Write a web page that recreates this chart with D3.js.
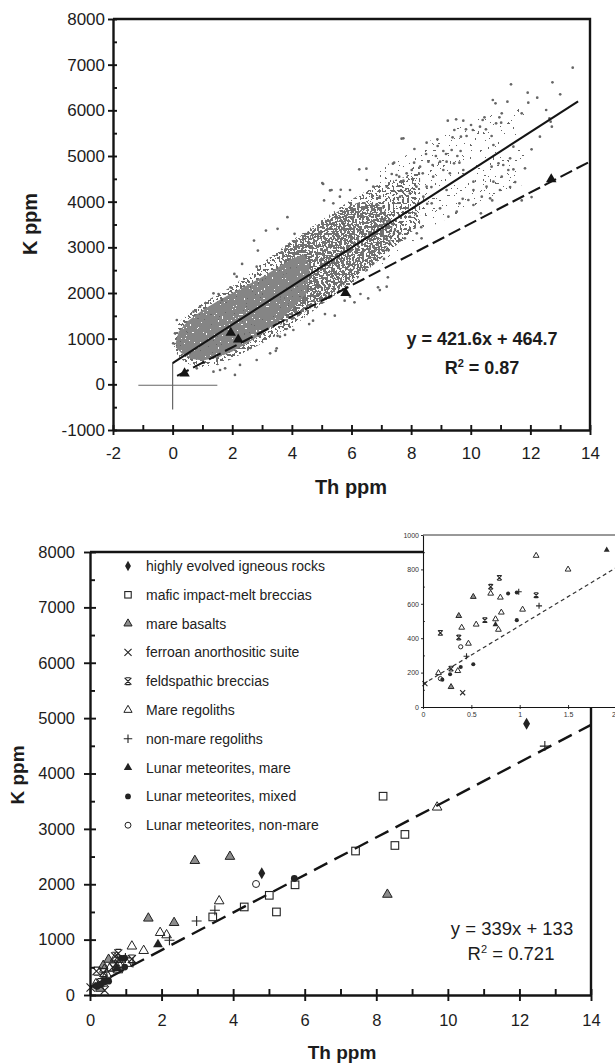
<!DOCTYPE html>
<html>
<head>
<meta charset="utf-8">
<script src="https://cdn.jsdelivr.net/npm/d3@7"></script>
<style>
  html, body { margin: 0; padding: 0; background: #fff; }
  svg { display: block; font-family: Arial, "Liberation Sans", Helvetica, sans-serif; }
</style>
</head>
<body>
<svg id="fig" width="615" height="1063"></svg>
<script>
// ---------- upper panel: orbital K vs Th ----------
const topXTicks = [-2, 0, 2, 4, 6, 8, 10, 12, 14];
const topYTicks = [-1000, 0, 1000, 2000, 3000, 4000, 5000, 6000, 7000, 8000];
const orbitFit = { slope: 421.6, intercept: 464.7, r2: "0.87", thEnd: 13.6 };
const sampleFit = { slope: 339, intercept: 133, r2: "0.721" };

// outline of the solid, most crowded part of the cloud (Th, K)
const coreOutline = [[0.1,900],[0.2,1150],[0.5,1380],[1.0,1620],[1.5,1820],[2.0,2000],[2.5,2170],[3.0,2350],[3.5,2550],[4.0,2750],[4.4,2850],[4.6,2600],[4.5,2000],[4.0,1650],[3.5,1350],[3.0,1100],[2.5,900],[2.0,720],[1.5,580],[1.0,520],[0.6,560],[0.3,680],[0.12,800]];
// outline of the crowded but mottled middle stretch
const midOutline = [[3.6,2900],[4.3,3250],[5.0,3550],[5.7,3850],[6.3,4000],[6.9,3950],[7.4,3600],[7.3,3100],[6.7,2650],[6.0,2300],[5.3,1950],[4.6,1650],[4.0,1400],[3.6,1300]];
// outline of the looser halo around the main cloud
const haloOutline = [[0.05,1000],[0.2,1350],[0.6,1600],[1.2,1850],[2.0,2150],[3.0,2650],[4.0,3150],[5.0,3600],[6.0,4050],[6.8,4350],[7.6,4500],[8.3,4650],[8.3,3500],[7.6,3100],[6.8,2650],[6.0,2200],[5.0,1750],[4.0,1250],[3.0,900],[2.0,560],[1.5,420],[1.0,380],[0.5,450],[0.2,600],[0.05,800]];
// outline of the thin high-Th tail
const tailOutline = [[6.8,4700],[7.8,5000],[8.8,5400],[9.8,5700],[10.8,5950],[11.8,6050],[11.8,4400],[10.8,4000],[9.8,3800],[8.8,3500],[7.8,3000],[6.8,2500]];

// individually resolved pixels of the cloud (Th, K)
const cloudPoints = [
  [13.42,6934],[11.35,6569],[12.74,6613],[13.0,6350],[11.91,6387],[12.23,6277],[11.93,6168],[12.53,6007],[12.72,5642],[12.68,5752],
  [11.71,5934],[10.74,6226],[10.83,6153],[11.23,6190],[11.04,5934],[10.96,5846],[10.85,5715],[11.02,5730],[10.4,5788],[10.31,5642],
  [10.46,5846],[10.51,5584],[10.7,5438],[9.23,5773],[9.51,5803],[9.75,5773],[9.84,5584],[10.01,5679],[10.07,5569],[9.45,5569],
  [9.67,5423],[9.86,5438],[9.39,5409],[8.88,5365],[8.52,5292],[8.5,5044],[7.74,5387],[8.11,5153],[7.43,4854],[6.26,4708],
  [5.05,4387],[8.89,5219],[9.08,5109],[9.17,5044],[9.36,5131],[9.55,5000],[9.66,5109],[8.83,5000],[8.97,4876],[9.19,4876],
  [9.44,4839],[9.62,4854],[9.75,4693],[9.08,4693],[9.3,4620],[8.58,4876],[8.72,4803],[8.3,4766],[8.39,4620],[8.1,4854],
  [8.02,4693],[7.85,4620],[7.74,4459],[7.6,4547],[7.51,4584],[7.35,4606],[10.7,4766],[10.93,4839],[11.09,4803],[11.32,4949],
  [11.26,4693],[11.43,4708],[11.04,4547],[10.76,4438],[10.53,4328],[10.09,4438],[10.09,4255],[9.92,4036],[10.37,4109],[10.65,4073],
  [10.98,4255],[12.04,5146],[11.82,4730],[10.76,5241],[9.62,3963],[9.53,3780],[9.25,3671],[8.97,3854],[10.09,3927],[10.34,3744],
  [11.43,5204],[12.32,5423],[12.64,5825],[8.19,3306],[8.35,3197],[7.79,3197],[7.29,3087],[7.63,3671],[7.96,3671],[7.46,3379],
  [7.07,3562],[8.52,4328],[8.74,4547],[8.18,4328],[7.96,4182],[8.41,4109],[8.69,3963],[9.19,4255],[8.24,3963],[7.63,4109],
  [7.18,4328],[6.95,4109],[6.73,4328],[6.51,4474],[5.95,4255],[5.61,4109],[5.39,3963],[5.33,4255],[7.07,3890],[6.51,3890],
  [6.06,3817],[6.28,3379],[6.84,3306],[7.18,3233],[5.72,3525],[7.18,2138],[6.95,2065],[6.56,1882],[5.95,1919],[5.72,2211],
  [6.51,2503],[6.73,2649],[7.63,3306],[7.18,2941],
  [0.14,1409],[0.08,1117],[0.02,898],[2.09,205],[3.49,789],[3.6,1044],[1.37,1993],[2.15,2358],[2.82,2577],[1.65,1847],
  [0.92,1701],[0.7,1592],[1.59,314],[1.37,278],[1.76,351],[0.81,351],[2.26,424],[2.82,533],[3.27,679],[3.77,1081],
  [4.05,1190],[7.68,5380],[7.39,4832],[6.5,4722],[5.64,4261],[5.02,4407],[5.28,4246],[5.08,4027],[2.73,3149],[3.13,3368],
  [3.85,3661],[4.09,3295],[3.52,3405],[2.86,2929],[2.33,2637],[2.07,2417],[1.94,2125],[1.54,1978],[3.46,734],[3.52,1063],
  [4.71,1393],[4.58,1320],[5.11,1539],[5.44,1503],[6.1,1795],[6.89,2125],[7.22,2344],[7.09,2746],[7.42,3295],[7.62,3149],
  [8.15,3734],[8.34,3441],[8.54,3954],[8.68,4320],[5.77,1832],[6.3,1978],[9.73,4063],[10.72,4027],[11.32,4320],[11.71,4027],
  [12.04,4100],[11.49,4429]
];
// lunar meteorite compositions plotted on the orbital panel
const meteoriteTh = [0.4, 1.95, 2.2, 5.8, 12.7];
const meteoriteK  = [240, 1130, 980, 2000, 4490];

// ---------- lower panel: returned samples and meteorites ----------
const bottomXTicks = [0, 2, 4, 6, 8, 10, 12, 14];
const bottomYTicks = [0, 1000, 2000, 3000, 4000, 5000, 6000, 7000, 8000];
const insetXTicks = [0, 0.5, 1, 1.5, 2];
const insetYTicks = [0, 200, 400, 600, 800, 1000];

const groupNames = ["highly evolved igneous rocks", "mafic impact-melt breccias", "mare basalts",
  "ferroan anorthositic suite", "feldspathic breccias", "Mare regoliths", "non-mare regoliths",
  "Lunar meteorites, mare", "Lunar meteorites, mixed", "Lunar meteorites, non-mare"];
const groupMarks = ["diamond", "square", "grayTri", "cross", "star", "openTri", "plus", "blackTri", "dot", "ring"];

const highlyEvolved = [[4.8,2200],[12.2,4900]];
const maficMelt = [[3.43,1410],[4.31,1590],[5.01,1800],[5.21,1500],[5.73,1990],[7.42,2600],[8.19,3590],[8.52,2700],[8.80,2900]];
const mareBasalts = [[0.29,117],[0.37,530],[0.52,641],[1.63,1385],[2.35,1305],[2.93,2425],[3.91,2500],[8.31,1815]];
const ferroan = [[0.02,136],[0.41,83]];
const feldspathic = [[0.18,431],[0.29,223],[0.37,404],[0.64,505],[0.70,699],[0.79,751],[1.17,650]];
const mareRegoliths = [[0.16,198],[0.36,210],[0.40,462],[0.47,369],[0.55,480],[0.70,660],[0.75,511],[0.78,450],[0.80,637],[0.81,550],[1.03,567],[1.17,880],[1.5,800],[1.96,1125],[2.14,1083],[3.61,1697],[9.70,3390]];
const nonMareRegoliths = [[0.45,295],[0.99,670],[1.2,588],[2.22,990],[2.98,1335],[3.49,1530],[12.71,4495]];
const meteoritesMare = [[0.75,480],[1.9,913]];
const meteoritesMixed = [[0.2,159],[0.28,190],[0.39,233],[0.52,249],[0.88,660],[0.97,666],[0.97,505],[5.71,2105]];
const meteoritesNonMare = [[0.18,165],[0.39,350],[4.64,2005]];
const groupData = [highlyEvolved, maficMelt, mareBasalts, ferroan, feldspathic, mareRegoliths, nonMareRegoliths, meteoritesMare, meteoritesMixed, meteoritesNonMare];

// ---------- drawing ----------
const svg = d3.select("#fig");
const defs = svg.append("defs");
const INK = "#141414";
const plain = d => String(d);

// grain texture used to render the point cloud density; cut = share of noise kept out
function grainFilter(id, cut, freq, seed) {
  const steps = 20, on = Math.round(cut * steps);
  const table = d3.range(steps).map(i => (i < on ? 0 : 1)).join(" ");
  const f = defs.append("filter").attr("id", id)
    .attr("x", "-5%").attr("y", "-5%").attr("width", "110%").attr("height", "110%")
    .attr("color-interpolation-filters", "sRGB");
  f.append("feTurbulence").attr("type", "fractalNoise").attr("baseFrequency", freq)
    .attr("numOctaves", 1).attr("seed", seed).attr("result", "noise");
  f.append("feComponentTransfer").attr("in", "noise").attr("result", "mask")
    .append("feFuncA").attr("type", "discrete").attr("tableValues", table);
  f.append("feComposite").attr("in", "SourceGraphic").attr("in2", "mask").attr("operator", "in");
}
grainFilter("grainCore", 0.3, 0.5, 4);
grainFilter("grainMid", 0.5, 0.45, 9);
grainFilter("grainHalo", 0.55, 0.42, 23);
grainFilter("grainTail", 0.7, 0.4, 17);

function crossTicks(g, orient, outer, inner) {
  g.selectAll(".tick line").each(function () {
    const l = d3.select(this);
    if (orient === "left") l.attr("x1", -outer).attr("x2", inner);
    else l.attr("y1", -inner).attr("y2", outer);
  });
}
function styleAxis(g, w, fs) {
  g.attr("font-family", "Arial, 'Liberation Sans', sans-serif").attr("font-size", fs);
  g.select(".domain").attr("stroke", INK).attr("stroke-width", w);
  g.selectAll(".tick line").attr("stroke", INK).attr("stroke-width", w * 0.8);
  g.selectAll(".tick text").attr("fill", "#1c1c1c");
}

// ===== upper panel =====
const xT = d3.scaleLinear().domain([-2, 14]).range([113, 590]);
const yT = d3.scaleLinear().domain([-1000, 8000]).range([430, 19]);
const upper = svg.append("g");

const line = d3.line().x(d => xT(d[0])).y(d => yT(d[1]));
const poly = pts => line(pts) + "Z";

upper.append("path").attr("d", poly(tailOutline)).attr("fill", "#666").attr("filter", "url(#grainTail)");
upper.append("path").attr("d", poly(haloOutline)).attr("fill", "#6a6a6a").attr("filter", "url(#grainHalo)");
upper.append("path").attr("d", poly(midOutline)).attr("fill", "#727272").attr("filter", "url(#grainMid)");
upper.append("path").attr("d", poly(coreOutline)).attr("fill", "#858585").attr("filter", "url(#grainCore)");

upper.append("g").selectAll("circle").data(cloudPoints).join("circle")
  .attr("cx", d => xT(d[0])).attr("cy", d => yT(d[1])).attr("r", 1.35).attr("fill", "#666");

// origin cross
upper.append("line").attr("x1", xT(-1.15)).attr("x2", xT(1.5)).attr("y1", yT(-20)).attr("y2", yT(-20))
  .attr("stroke", "#666").attr("stroke-width", 1.2);
upper.append("line").attr("x1", xT(0)).attr("x2", xT(0)).attr("y1", yT(-550)).attr("y2", yT(orbitFit.intercept))
  .attr("stroke", "#666").attr("stroke-width", 1.2);

// regression of the orbital data
upper.append("path").attr("d", line([[0, orbitFit.intercept], [orbitFit.thEnd, orbitFit.intercept + orbitFit.slope * orbitFit.thEnd]]))
  .attr("stroke", INK).attr("stroke-width", 2.1).attr("fill", "none");
// regression of the samples
upper.append("path").attr("d", line([[0.15, sampleFit.intercept + sampleFit.slope * 0.15], [14, sampleFit.intercept + sampleFit.slope * 14]]))
  .attr("stroke", INK).attr("stroke-width", 2.1).attr("fill", "none").attr("stroke-dasharray", "13,5");

upper.append("g").selectAll("path").data(meteoriteTh).join("path")
  .attr("d", d3.symbol(d3.symbolTriangle, 48)())
  .attr("transform", (d, i) => `translate(${xT(d)},${yT(meteoriteK[i])})`).attr("fill", INK);

// axes
const tyAxis = upper.append("g").attr("transform", `translate(${xT(-2)},0)`)
  .call(d3.axisLeft(yT).tickValues(topYTicks).tickSize(5).tickSizeOuter(0).tickPadding(3).tickFormat(plain));
crossTicks(tyAxis, "left", 5, 4);
styleAxis(tyAxis, 2.4, 17);
const tyMinor = upper.append("g").attr("transform", `translate(${xT(-2)},0)`)
  .call(d3.axisLeft(yT).tickValues(topYTicks.slice(0, -1).map(v => v + 500)).tickSize(-4).tickSizeOuter(0).tickFormat(""));
styleAxis(tyMinor, 2.4, 17); tyMinor.select(".domain").remove();

const txAxis = upper.append("g").attr("transform", `translate(0,${yT(-1000)})`)
  .call(d3.axisBottom(xT).tickValues(topXTicks).tickSize(5).tickSizeOuter(0).tickPadding(12).tickFormat(plain));
crossTicks(txAxis, "bottom", 5, 5);
styleAxis(txAxis, 2.4, 17);
const txMinor = upper.append("g").attr("transform", `translate(0,${yT(-1000)})`)
  .call(d3.axisBottom(xT).tickValues(topXTicks.slice(0, -1).map(v => v + 1)).tickSize(-5).tickSizeOuter(0).tickFormat(""));
styleAxis(txMinor, 2.4, 17); txMinor.select(".domain").remove();

upper.append("path").attr("d", `M${xT(-2)},${yT(8000)}H${xT(14)}V${yT(-1000)}`)
  .attr("fill", "none").attr("stroke", INK).attr("stroke-width", 2.4);

upper.append("text").attr("x", 351).attr("y", 494).attr("text-anchor", "middle")
  .attr("font-size", 20).attr("font-weight", "bold").attr("fill", "#1c1c1c").text("Th ppm");
upper.append("text").attr("transform", "translate(37,224) rotate(-90)").attr("text-anchor", "middle")
  .attr("font-size", 20).attr("font-weight", "bold").attr("fill", "#1c1c1c").text("K ppm");

upper.append("text").attr("x", 482).attr("y", 345).attr("text-anchor", "middle")
  .attr("font-size", 18).attr("font-weight", "bold").attr("fill", "#1c1c1c")
  .text(`y = ${orbitFit.slope}x + ${orbitFit.intercept}`);
const r2a = upper.append("text").attr("x", 482).attr("y", 374).attr("text-anchor", "middle")
  .attr("font-size", 18).attr("font-weight", "bold").attr("fill", "#1c1c1c");
r2a.append("tspan").text("R");
r2a.append("tspan").attr("font-size", 11).attr("dy", -7).text("2");
r2a.append("tspan").attr("dy", 7).text(` = ${orbitFit.r2}`);

// ===== lower panel =====
const xB = d3.scaleLinear().domain([0, 14]).range([90, 591]);
const yB = d3.scaleLinear().domain([0, 8000]).range([995, 552]);
const lower = svg.append("g");

function drawMark(g, kind, x, y, s, col) {
  const c = col || "#222";
  const t = `translate(${x},${y})`;
  switch (kind) {
    case "diamond":
      g.append("path").attr("d", d3.symbol(d3.symbolDiamond, 42 * s * s)()).attr("transform", t).attr("fill", c); break;
    case "square": {
      const w = 7.6 * s;
      g.append("rect").attr("x", x - w / 2).attr("y", y - w / 2).attr("width", w).attr("height", w)
        .attr("fill", "none").attr("stroke", c).attr("stroke-width", 1.1); break;
    }
    case "grayTri":
      g.append("path").attr("d", d3.symbol(d3.symbolTriangle, 40 * s * s)()).attr("transform", t)
        .attr("fill", "#8c8c8c").attr("stroke", c).attr("stroke-width", 1); break;
    case "openTri":
      g.append("path").attr("d", d3.symbol(d3.symbolTriangle, 40 * s * s)()).attr("transform", t)
        .attr("fill", "none").attr("stroke", c).attr("stroke-width", 1); break;
    case "blackTri":
      g.append("path").attr("d", d3.symbol(d3.symbolTriangle, 42 * s * s)()).attr("transform", t).attr("fill", c); break;
    case "cross": {
      const a = 4.2 * s;
      g.append("path").attr("d", `M${x - a},${y - a}L${x + a},${y + a}M${x - a},${y + a}L${x + a},${y - a}`)
        .attr("stroke", c).attr("stroke-width", 1.1); break;
    }
    case "star": {
      const a = 4 * s;
      g.append("path").attr("d", `M${x - a},${y - a}L${x + a},${y + a}M${x - a},${y + a}L${x + a},${y - a}M${x - a * 0.7},${y - a}H${x + a * 0.7}M${x - a * 0.7},${y + a}H${x + a * 0.7}`)
        .attr("stroke", c).attr("stroke-width", 1.1); break;
    }
    case "plus": {
      const a = 5 * s;
      g.append("path").attr("d", `M${x - a},${y}H${x + a}M${x},${y - a}V${y + a}`)
        .attr("stroke", c).attr("stroke-width", 1.1); break;
    }
    case "dot":
      g.append("circle").attr("cx", x).attr("cy", y).attr("r", 3.4 * s).attr("fill", c); break;
    case "ring":
      g.append("circle").attr("cx", x).attr("cy", y).attr("r", 3.5 * s).attr("fill", "none")
        .attr("stroke", c).attr("stroke-width", 1); break;
  }
}

// sample regression
lower.append("path").attr("d", `M${xB(0)},${yB(sampleFit.intercept)}L${xB(14)},${yB(sampleFit.intercept + sampleFit.slope * 14)}`)
  .attr("stroke", INK).attr("stroke-width", 2.4).attr("fill", "none").attr("stroke-dasharray", "15,8");

const pts = lower.append("g");
groupData.forEach((arr, gi) => arr.forEach(d => drawMark(pts, groupMarks[gi], xB(d[0]), yB(d[1]), 1)));

// axes
const byAxis = lower.append("g").attr("transform", `translate(${xB(0)},0)`)
  .call(d3.axisLeft(yB).tickValues(bottomYTicks).tickSize(6).tickSizeOuter(0).tickPadding(9).tickFormat(plain));
crossTicks(byAxis, "left", 6, 6);
styleAxis(byAxis, 2.4, 16.5);
const byMinor = lower.append("g").attr("transform", `translate(${xB(0)},0)`)
  .call(d3.axisLeft(yB).tickValues(bottomYTicks.slice(0, -1).map(v => v + 500)).tickSize(-5).tickSizeOuter(0).tickFormat(""));
styleAxis(byMinor, 2.4, 16.5); byMinor.select(".domain").remove();

const bxAxis = lower.append("g").attr("transform", `translate(0,${yB(0)})`)
  .call(d3.axisBottom(xB).tickValues(bottomXTicks).tickSize(6).tickSizeOuter(0).tickPadding(13).tickFormat(plain));
crossTicks(bxAxis, "bottom", 6, 6);
styleAxis(bxAxis, 2.4, 16.5);
const bxMinor = lower.append("g").attr("transform", `translate(0,${yB(0)})`)
  .call(d3.axisBottom(xB).tickValues(bottomXTicks.slice(0, -1).map(v => v + 1)).tickSize(-6).tickSizeOuter(0).tickFormat(""));
styleAxis(bxMinor, 2.4, 16.5); bxMinor.select(".domain").remove();

lower.append("path").attr("d", `M${xB(0)},${yB(8000)}H${xB(14)}V${yB(0)}`)
  .attr("fill", "none").attr("stroke", INK).attr("stroke-width", 2.4);

lower.append("text").attr("x", 342).attr("y", 1059).attr("text-anchor", "middle")
  .attr("font-size", 19).attr("font-weight", "bold").attr("fill", "#1c1c1c").text("Th ppm");
lower.append("text").attr("transform", "translate(24,775) rotate(-90)").attr("text-anchor", "middle")
  .attr("font-size", 19).attr("font-weight", "bold").attr("fill", "#1c1c1c").text("K ppm");

lower.append("text").attr("x", 512).attr("y", 935).attr("text-anchor", "middle")
  .attr("font-size", 18.5).attr("fill", "#1c1c1c")
  .text(`y = ${sampleFit.slope}x + ${sampleFit.intercept}`);
const r2b = lower.append("text").attr("x", 511).attr("y", 960).attr("text-anchor", "middle")
  .attr("font-size", 18.5).attr("fill", "#1c1c1c");
r2b.append("tspan").text("R");
r2b.append("tspan").attr("font-size", 11).attr("dy", -7).text("2");
r2b.append("tspan").attr("dy", 7).text(` = ${sampleFit.r2}`);

// legend
const leg = lower.append("g");
groupNames.forEach((name, i) => {
  const y = 566 + i * 28.8;
  drawMark(leg, groupMarks[i], 128, y, 0.85);
  leg.append("text").attr("x", 146).attr("y", y).attr("dy", "0.35em")
    .attr("font-size", 14).attr("fill", "#222").text(name);
});

// ===== inset: low-Th enlargement =====
const xI = d3.scaleLinear().domain([0, 2]).range([423, 616.4]);
const yI = d3.scaleLinear().domain([0, 1000]).range([707, 535]);
const ins = svg.append("g");
ins.append("rect").attr("x", 423).attr("y", 535).attr("width", 200).attr("height", 172).attr("fill", "#fff");
ins.append("path").attr("d", `M${xI(0)},${yI(sampleFit.intercept)}L${xI(2)},${yI(sampleFit.intercept + sampleFit.slope * 2)}`)
  .attr("stroke", "#333").attr("stroke-width", 1.2).attr("stroke-dasharray", "4,3").attr("fill", "none");
const ipts = ins.append("g");
groupData.forEach((arr, gi) => arr.filter(d => d[0] <= 2 && d[1] <= 1000)
  .forEach(d => drawMark(ipts, groupMarks[gi], xI(d[0]), yI(d[1]), 0.6, "#2a2a2a")));

const iy = ins.append("g").attr("transform", `translate(${xI(0)},0)`)
  .call(d3.axisLeft(yI).tickValues(insetYTicks).tickSize(2).tickSizeOuter(0).tickPadding(2).tickFormat(plain));
styleAxis(iy, 1.1, 7);
iy.selectAll(".tick text").attr("fill", "#333");
const iyMinor = ins.append("g").attr("transform", `translate(${xI(0)},0)`)
  .call(d3.axisLeft(yI).tickValues(insetYTicks.slice(0, -1).map(v => v + 100)).tickSize(-2).tickSizeOuter(0).tickFormat(""));
styleAxis(iyMinor, 1, 7); iyMinor.select(".domain").remove();
const ix = ins.append("g").attr("transform", `translate(0,${yI(0)})`)
  .call(d3.axisBottom(xI).tickValues(insetXTicks).tickSize(2).tickSizeOuter(0).tickPadding(3).tickFormat(plain));
crossTicks(ix, "bottom", 2, 2);
styleAxis(ix, 1.1, 7);
ix.selectAll(".tick text").attr("fill", "#333");
// the last label sits at the page edge: keep it fully on the page
ix.selectAll(".tick").filter(d => d === 2).select("text").attr("text-anchor", "end").attr("x", -1);
ins.append("line").attr("x1", xI(0)).attr("x2", 615).attr("y1", yI(1000)).attr("y2", yI(1000))
  .attr("stroke", "#333").attr("stroke-width", 1);
</script>
</body>
</html>
